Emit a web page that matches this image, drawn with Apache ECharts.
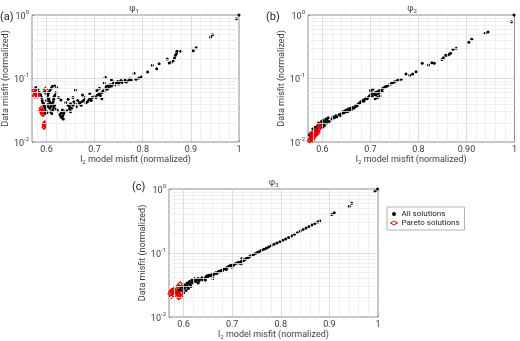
<!DOCTYPE html>
<html>
<head>
<meta charset="utf-8">
<script src="https://cdn.jsdelivr.net/npm/echarts@6/dist/echarts.min.js"></script>
<style>
  html, body { margin: 0; padding: 0; background: #fff; }
  #chart { width: 520px; height: 341px; }
</style>
</head>
<body>
<div id="chart"></div>
<script>
// ---- data ----
const xTickValues = [0.6, 0.7, 0.8, 0.9, 1]
const xTickLabelsA = ["0.6", "0.7", "0.8", "0.9", "1"]
const xTickLabelsB = ["0.6", "0.7", "0.8", "0.90", "1"]
const xTickLabelsC = ["0.6", "0.7", "0.8", "0.9", "1"]

// (a) phi_1
const allA = [
  [0.578,0.072],[0.582,0.068],[0.585,0.060],[0.588,0.055],[0.590,0.050],[0.591,0.045],[0.592,0.042],[0.594,0.040],
  [0.595,0.038],[0.596,0.036],[0.597,0.034],[0.598,0.033],[0.599,0.031],[0.600,0.030],[0.601,0.029],[0.590,0.032],
  [0.593,0.030],[0.596,0.028],[0.600,0.045],[0.602,0.050],[0.603,0.055],[0.605,0.060],[0.607,0.065],[0.610,0.070],
  [0.612,0.075],[0.605,0.048],[0.606,0.044],[0.608,0.041],[0.603,0.039],[0.604,0.036],[0.607,0.034],[0.610,0.037],
  [0.612,0.040],[0.614,0.043],[0.615,0.047],[0.616,0.052],[0.618,0.055],[0.620,0.060],[0.617,0.078],[0.621,0.072],
  [0.600,0.058],[0.598,0.062],[0.609,0.030],[0.611,0.028],[0.613,0.032],[0.615,0.035],[0.617,0.038],[0.620,0.033],
  [0.623,0.031],[0.628,0.027],[0.630,0.025],[0.632,0.024],[0.634,0.026],[0.635,0.023],[0.636,0.028],[0.638,0.030],
  [0.631,0.029],[0.633,0.032],[0.625,0.050],[0.630,0.046],[0.640,0.042],[0.645,0.038],[0.648,0.036],[0.650,0.040],
  [0.652,0.034],[0.655,0.038],[0.657,0.043],[0.660,0.040],[0.662,0.036],[0.665,0.045],[0.668,0.040],[0.670,0.042],
  [0.672,0.038],[0.675,0.044],[0.678,0.046],[0.680,0.050],[0.682,0.041],[0.685,0.043],[0.688,0.046],[0.690,0.048],
  [0.693,0.045],[0.695,0.050],[0.645,0.047],[0.655,0.050],[0.660,0.066],[0.675,0.055],[0.690,0.058],[0.642,0.031],
  [0.650,0.030],[0.648,0.033],[0.700,0.052],[0.703,0.050],[0.706,0.055],[0.710,0.058],[0.712,0.054],[0.715,0.060],
  [0.718,0.064],[0.720,0.062],[0.722,0.070],[0.724,0.075],[0.726,0.068],[0.728,0.078],[0.730,0.072],[0.732,0.080],
  [0.735,0.076],[0.738,0.083],[0.740,0.088],[0.742,0.079],[0.745,0.085],[0.748,0.090],[0.750,0.082],[0.752,0.088],
  [0.755,0.093],[0.758,0.086],[0.760,0.090],[0.763,0.095],[0.766,0.088],[0.770,0.092],[0.773,0.098],[0.776,0.095],
  [0.722,0.105],[0.710,0.070],[0.715,0.048],[0.705,0.065],[0.735,0.095],[0.720,0.085],
  [0.782,0.121],[0.786,0.097],[0.792,0.102],[0.797,0.106],[0.810,0.127],[0.820,0.161],[0.829,0.143],[0.834,0.171],
  [0.851,0.203],[0.855,0.175],[0.860,0.182],[0.863,0.190],[0.866,0.210],[0.868,0.232],[0.870,0.246],[0.871,0.268],
  [0.879,0.268],[0.905,0.274],[0.911,0.305],[0.941,0.450],[0.945,0.490],[0.995,0.875],[1.000,1.000]
]
const paretoA = [
  [0.574,0.065],[0.576,0.060],[0.577,0.057],[0.578,0.062],[0.580,0.055],[0.581,0.052],[0.583,0.058],[0.575,0.053],
  [0.598,0.068],[0.597,0.062],[0.589,0.034],[0.590,0.030],[0.591,0.028],[0.592,0.032],[0.593,0.027],[0.588,0.031],
  [0.595,0.019],[0.595,0.017],[0.596,0.020],[0.596,0.018]
]

// (b) phi_2
const allB = [
  [0.573,0.013],[0.575,0.012],[0.578,0.014],[0.580,0.016],[0.583,0.015],[0.585,0.017],[0.588,0.016],[0.590,0.018],
  [0.592,0.020],[0.594,0.017],[0.596,0.019],[0.598,0.021],[0.600,0.020],[0.601,0.022],[0.603,0.019],[0.605,0.021],
  [0.607,0.023],[0.609,0.020],[0.610,0.022],[0.612,0.024],[0.614,0.021],[0.600,0.017],[0.604,0.018],[0.620,0.023],
  [0.622,0.025],[0.625,0.024],[0.628,0.026],[0.630,0.025],[0.635,0.027],[0.638,0.026],[0.640,0.028],[0.642,0.030],
  [0.645,0.029],[0.647,0.031],[0.648,0.030],[0.650,0.032],[0.652,0.030],[0.654,0.033],[0.656,0.031],[0.658,0.034],
  [0.660,0.032],[0.662,0.035],[0.665,0.034],[0.668,0.036],[0.670,0.038],[0.672,0.037],[0.675,0.040],[0.678,0.041],
  [0.680,0.043],[0.683,0.045],[0.686,0.044],[0.688,0.047],[0.690,0.049],[0.693,0.048],[0.695,0.050],[0.698,0.053],
  [0.700,0.055],[0.702,0.060],[0.704,0.052],[0.706,0.058],[0.708,0.056],[0.710,0.060],[0.712,0.055],[0.714,0.062],
  [0.716,0.058],[0.718,0.064],[0.720,0.060],[0.722,0.067],[0.724,0.063],[0.726,0.070],[0.729,0.072],[0.732,0.075],
  [0.735,0.076],[0.738,0.079],[0.741,0.081],[0.744,0.084],[0.747,0.086],[0.750,0.089],[0.755,0.092],[0.759,0.095],
  [0.764,0.097],[0.700,0.065],[0.705,0.068],[0.710,0.048],[0.715,0.050],[0.720,0.053],
  [0.774,0.118],[0.782,0.112],[0.788,0.118],[0.795,0.128],[0.808,0.174],[0.821,0.163],[0.828,0.177],[0.833,0.174],
  [0.849,0.200],[0.852,0.213],[0.857,0.232],[0.860,0.232],[0.864,0.240],[0.867,0.249],[0.872,0.290],[0.879,0.300],
  [0.905,0.372],[0.911,0.414],[0.939,0.515],[0.945,0.540],[0.994,0.785],[0.999,1.000]
]
const paretoB = [
  [0.573,0.0105],[0.575,0.011],[0.577,0.012],[0.578,0.0115],[0.580,0.013],[0.581,0.0125],[0.583,0.014],[0.584,0.013],
  [0.586,0.015],[0.587,0.0145],[0.589,0.016],[0.590,0.015],[0.592,0.017],[0.593,0.016],[0.595,0.018],[0.576,0.0135],
  [0.579,0.0108],[0.582,0.0118],[0.585,0.0128],[0.588,0.0135],[0.591,0.0142]
]

// (c) phi_3
const allC = [
  [0.585,0.024],[0.588,0.026],[0.590,0.025],[0.592,0.027],[0.594,0.029],[0.596,0.026],[0.598,0.030],[0.600,0.028],
  [0.602,0.032],[0.603,0.029],[0.605,0.031],[0.607,0.034],[0.608,0.030],[0.610,0.033],[0.612,0.036],[0.614,0.032],
  [0.615,0.035],[0.617,0.038],[0.619,0.034],[0.620,0.037],[0.622,0.040],[0.625,0.036],[0.627,0.038],[0.630,0.040],
  [0.632,0.037],[0.635,0.039],[0.638,0.041],[0.640,0.038],[0.643,0.040],[0.646,0.042],[0.648,0.044],[0.650,0.043],
  [0.652,0.045],[0.655,0.044],[0.658,0.046],[0.660,0.045],[0.663,0.047],[0.666,0.049],[0.668,0.048],[0.670,0.050],
  [0.673,0.052],[0.675,0.051],[0.678,0.054],[0.680,0.053],[0.683,0.056],[0.686,0.058],[0.688,0.055],[0.690,0.060],
  [0.693,0.062],[0.696,0.064],[0.700,0.066],[0.703,0.065],[0.706,0.068],[0.710,0.070],[0.713,0.072],[0.716,0.069],
  [0.719,0.074],[0.722,0.076],[0.720,0.082],[0.725,0.078],[0.728,0.081],[0.731,0.083],[0.734,0.086],[0.737,0.089],
  [0.740,0.092],[0.744,0.095],[0.748,0.098],[0.752,0.102],[0.756,0.106],[0.760,0.110],[0.765,0.114],[0.770,0.119],
  [0.775,0.124],[0.780,0.130],[0.786,0.137],[0.792,0.143],[0.798,0.150],[0.804,0.158],[0.810,0.166],[0.816,0.175],
  [0.822,0.185],[0.828,0.196],[0.834,0.208],[0.840,0.220],[0.846,0.233],[0.852,0.246],[0.858,0.260],[0.864,0.275],
  [0.870,0.290],[0.876,0.305],[0.880,0.318],[0.905,0.400],[0.910,0.425],[0.941,0.540],[0.946,0.600],[0.994,0.910],
  [0.999,1.000],[0.600,0.024],[0.605,0.026],[0.610,0.028],[0.615,0.030],[0.630,0.034],[0.645,0.038],[0.660,0.040],
  [0.700,0.060],[0.720,0.068]
]
const paretoC = [
  [0.572,0.023],[0.574,0.025],[0.576,0.026],[0.578,0.024],[0.580,0.027],[0.582,0.025],[0.584,0.026],[0.575,0.021],
  [0.579,0.022],[0.586,0.024],[0.588,0.021],[0.590,0.020],[0.592,0.022],[0.594,0.021],[0.596,0.024],[0.590,0.023],
  [0.593,0.033],[0.588,0.030]
]

// ---- layout / styling ----
const myChart = echarts.init(document.getElementById("chart"))
const FONT = 'Roboto, "Liberation Sans", sans-serif'
const TXT = "#404040"

const panels = [
  { tag: "(a)", sub: "1", left: 29, top: 15, width: 210, height: 127, all: allA, pareto: paretoA, labels: xTickLabelsA, tagX: 0, tagY: 17 },
  { tag: "(b)", sub: "2", left: 308, top: 15, width: 208, height: 127, all: allB, pareto: paretoB, labels: xTickLabelsB, tagX: 266, tagY: 17 },
  { tag: "(c)", sub: "3", left: 169, top: 189, width: 209, height: 128, all: allC, pareto: paretoC, labels: xTickLabelsC, tagX: 132, tagY: 187 }
]

// grid line positions (matlab style major + minor)
const xMajor = [0.6, 0.7, 0.8, 0.9]
const xMinor = []
for (let i = 58; i < 100; i += 2) {
  if (i % 10 !== 0) xMinor.push(i / 100)
}
const yMinor = []
for (let k = 2; k <= 9; k++) {
  yMinor.push(k / 100)
  yMinor.push(k / 10)
}

const majorStyle = { color: "#d6d6d6", width: 0.8, type: "solid" }
const minorStyle = { color: "#ebebeb", width: 0.8, type: "solid" }

const supRich = {
  b: { fontSize: 9, fontFamily: FONT, color: TXT, lineHeight: 12, verticalAlign: "bottom" },
  s: { fontSize: 6, fontFamily: FONT, color: TXT, lineHeight: 7, verticalAlign: "top" }
}
const subRich = {
  n: { fontSize: 9, fontFamily: FONT, color: TXT, lineHeight: 10, verticalAlign: "top" },
  s: { fontSize: 6, fontFamily: FONT, color: TXT, lineHeight: 6, verticalAlign: "bottom" }
}

const grid = []
const xAxis = []
const yAxis = []
const series = []
const graphic = []

panels.forEach((p, i) => {
  grid.push({
    left: p.left, top: p.top, width: p.width, height: p.height,
    show: true, borderColor: "#8c8c8c", borderWidth: 1, backgroundColor: "#fff"
  })
  xAxis.push({
    gridIndex: i,
    type: "value",
    min: 0.57,
    max: 1,
    name: "{n|l}{s|2}{n| model misfit (normalized)}",
    nameLocation: "middle",
    nameGap: 13,
    nameTextStyle: { rich: subRich },
    axisLine: { show: false },
    axisTick: { show: true, inside: true, length: 2, customValues: xTickValues, lineStyle: { color: "#8c8c8c" } },
    axisLabel: {
      customValues: xTickValues,
      margin: 3,
      fontSize: 9,
      fontFamily: FONT,
      color: TXT,
      formatter: (v) => {
        const idx = xTickValues.findIndex((t) => Math.abs(t - v) < 1e-6)
        return idx >= 0 ? p.labels[idx] : ""
      }
    },
    splitLine: { show: false }
  })
  yAxis.push({
    gridIndex: i,
    type: "log",
    logBase: 10,
    min: 0.01,
    max: 1,
    name: "Data misfit (normalized)",
    nameLocation: "middle",
    nameGap: 16,
    nameTextStyle: { fontSize: 9, fontFamily: FONT, color: TXT },
    axisLine: { show: false },
    axisTick: { show: true, inside: true, length: 2, lineStyle: { color: "#8c8c8c" } },
    axisLabel: {
      margin: 3,
      formatter: (v) => "{b|10}{s|" + Math.round(Math.log10(v)) + "}",
      rich: supRich
    },
    splitLine: { show: false }
  })

  // grid lines drawn as mark lines behind the points
  const lines = []
  xMinor.forEach((v) => lines.push({ xAxis: v, lineStyle: minorStyle }))
  yMinor.forEach((v) => lines.push({ yAxis: v, lineStyle: minorStyle }))
  xMajor.forEach((v) => lines.push({ xAxis: v, lineStyle: majorStyle }))
  lines.push({ yAxis: 0.1, lineStyle: majorStyle })
  series.push({
    type: "scatter",
    name: "grid" + i,
    xAxisIndex: i,
    yAxisIndex: i,
    data: [],
    z: 1,
    silent: true,
    markLine: { silent: true, symbol: "none", label: { show: false }, animation: false, data: lines }
  })

  series.push({
    type: "scatter",
    name: "All solutions",
    xAxisIndex: i,
    yAxisIndex: i,
    symbol: "circle",
    symbolSize: 3,
    itemStyle: { color: "#000", opacity: 1 },
    z: 3,
    data: p.all
  })
  series.push({
    type: "scatter",
    name: "Pareto solutions",
    xAxisIndex: i,
    yAxisIndex: i,
    symbol: "diamond",
    symbolSize: 4,
    itemStyle: { color: "rgba(0,0,0,0)", borderColor: "#e00000", borderWidth: 1.1, opacity: 1 },
    z: 4,
    data: p.pareto
  })

  // phi title
  graphic.push({
    type: "text",
    x: p.left + p.width / 2,
    y: p.top - 6,
    style: {
      text: "{p|φ}{s|" + p.sub + "}",
      align: "center",
      verticalAlign: "middle",
      rich: {
        p: { fontSize: 9, fontFamily: FONT, fill: TXT, lineHeight: 10, verticalAlign: "top" },
        s: { fontSize: 6, fontFamily: FONT, fill: TXT, lineHeight: 6, verticalAlign: "bottom" }
      }
    }
  })
  // panel tag
  graphic.push({
    type: "text",
    x: p.tagX,
    y: p.tagY,
    style: { text: p.tag, fontSize: 11, fontFamily: FONT, fill: "#222", verticalAlign: "middle" }
  })
})

const option = {
  animation: false,
  backgroundColor: "#fff",
  grid: grid,
  xAxis: xAxis,
  yAxis: yAxis,
  legend: {
    orient: "vertical",
    left: 387,
    top: 207,
    itemGap: 1,
    itemWidth: 7,
    itemHeight: 4,
    padding: [3, 5, 3, 3],
    borderColor: "#a0a0a0",
    borderWidth: 0.8,
    selectedMode: false,
    textStyle: { fontSize: 8, fontFamily: FONT, color: "#222", padding: [0, 0, 0, -1] },
    data: [
      { name: "All solutions", icon: "circle", itemStyle: { color: "#000" } },
      { name: "Pareto solutions", icon: "diamond", itemStyle: { color: "rgba(0,0,0,0)", borderColor: "#e00000", borderWidth: 1 } }
    ]
  },
  graphic: graphic,
  series: series
}

myChart.setOption(option)
</script>
</body>
</html>
